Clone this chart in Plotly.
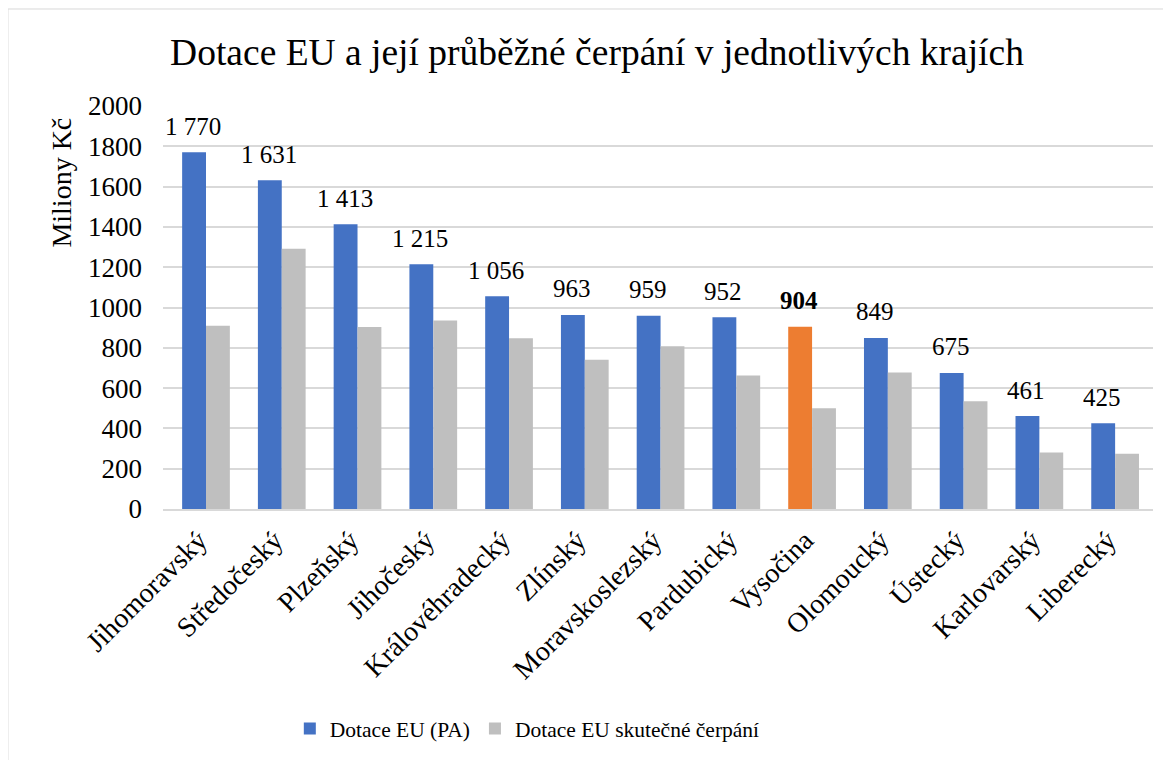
import plotly.graph_objects as go

kraje = ["Jihomoravský", "Středočeský", "Plzeňský", "Jihočeský", "Královéhradecký",
         "Zlínský", "Moravskoslezský", "Pardubický", "Vysočina", "Olomoucký",
         "Ústecký", "Karlovarský", "Liberecký"]
dotace_pa = [1770, 1631, 1413, 1215, 1056, 963, 959, 952, 904, 849, 675, 461, 425]
cerpani = [910, 1291, 903, 936, 847, 741, 808, 662, 500, 677, 535, 280, 274]
zvyraznit = "Vysočina"

font = "Liberation Serif, serif"
blue, orange, gray = "#4472c4", "#ed7d31", "#bfbfbf"

fig = go.Figure()
fig.add_trace(go.Bar(
    x=kraje, y=dotace_pa, name="Dotace EU (PA)",
    marker_color=[orange if k == zvyraznit else blue for k in kraje],
    marker_line_width=0,
))
fig.add_trace(go.Bar(
    x=kraje, y=cerpani, name="Dotace EU skutečné čerpání",
    marker_color=gray, marker_line_width=0,
))

# popisky hodnot nad modrými sloupci
for k, v in zip(kraje, dotace_pa):
    s = f"{v:,}".replace(",", " ")
    fig.add_annotation(
        x=k, y=v, text=f"<b>{s}</b>" if k == zvyraznit else s,
        showarrow=False, xshift=-13, yshift=26, yanchor="middle",
        font=dict(family=font, size=25, color="black"),
    )

# popisek osy y (v originále posunutý nahoru)
fig.add_annotation(
    text="Miliony Kč", xref="paper", yref="paper", x=-0.102, y=0.81,
    textangle=-90, showarrow=False, xanchor="center", yanchor="middle",
    font=dict(family=font, size=28, color="black"),
)

# stránka má okraj 8 px, proto jsou okraje o 8 px posunuté
fig.update_layout(
    width=1171, height=760,
    title=dict(text="Dotace EU a její průběžné čerpání v jednotlivých krajích",
               x=0.503, xanchor="center", y=0.942, yanchor="middle",
               font=dict(family=font, size=37.5, color="black")),
    font=dict(family=font, color="black"),
    barmode="group", bargap=0.37, bargroupgap=0,
    margin=dict(l=155, r=26, t=98, b=259),
    showlegend=True,
    legend=dict(orientation="h", x=0.368, xanchor="center", y=-0.545, yanchor="middle",
                font=dict(family=font, size=21.5, color="black")),
    paper_bgcolor="white", plot_bgcolor="white",
)
fig.update_yaxes(range=[0, 2000], dtick=200, gridcolor="#d9d9d9", gridwidth=1.5,
                 tickfont=dict(family=font, size=27), zeroline=False, showline=False,
                 ticklabelstandoff=20, automargin=False)
fig.update_xaxes(tickangle=-45, tickfont=dict(family=font, size=28), showline=True,
                 linecolor="#d9d9d9", linewidth=1.5, automargin=False, showgrid=False,
                 ticklabelshift=-7, ticklabelstandoff=2)
fig.add_shape(type="rect", xref="paper", yref="paper",
              x0=-0.1566, x1=1.0152, y0=-0.65, y1=1.2407,
              line=dict(color="#d9d9d9", width=1))

fig.write_html("out.html")
